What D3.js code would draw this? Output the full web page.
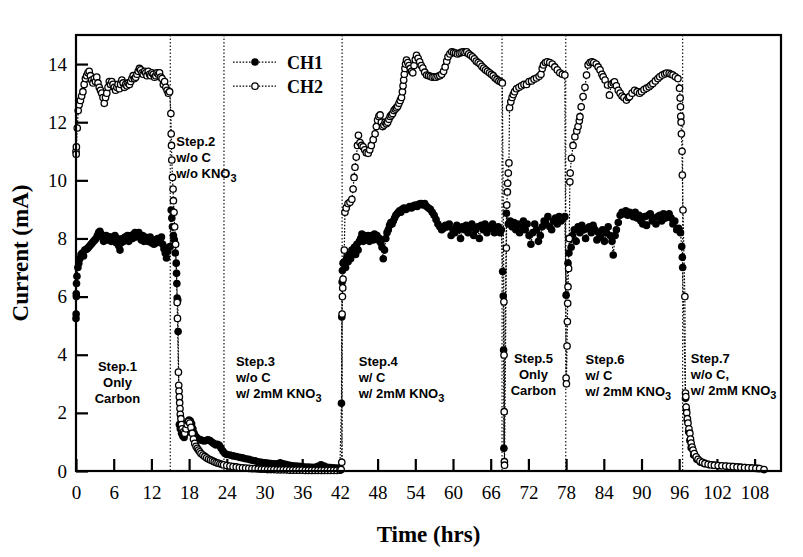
<!DOCTYPE html>
<html><head><meta charset="utf-8">
<script src="https://cdn.jsdelivr.net/npm/d3@7"></script>
<style>
html,body{margin:0;padding:0;background:#fff;}
svg{display:block;}
</style></head>
<body>
<svg id="chart" width="803" height="557"></svg>
<script>
// ---------- DATA (time in hrs, current in mA) ----------
const xTicks = [0,6,12,18,24,30,36,42,48,54,60,66,72,78,84,90,96,102,108];
const yTicks = [0,2,4,6,8,10,12,14];
const stepBoundaries = [15.0, 23.55, 42.35, 67.8, 77.95, 96.55];
const seriesNames = ["CH1","CH2"];

const ch1Step1 = [[0.0,5.25],[0.02,5.4],[0.04,6.1],[0.06,6.0],[0.08,6.45],[0.15,6.7],[0.3,7.0],[0.45,7.15],[0.6,7.3],[0.8,7.45],[1.0,7.5],[1.2,7.4],[1.4,7.6],[1.6,7.62],[1.8,7.65],[2.0,7.7],[2.2,7.75],[2.4,7.8],[2.6,7.85],[2.8,7.9],[3.0,7.95],[3.2,8.0],[3.4,8.1],[3.6,8.2],[3.8,8.25],[4.0,8.15],[4.2,8.05],[4.4,7.9],[4.6,8.0],[4.8,8.1],[5.0,7.95],[5.2,8.05],[5.4,8.06],[5.6,7.9],[5.8,8.0],[6.0,7.95],[6.2,8.1],[6.4,7.85],[6.6,8.0],[6.8,7.75],[7.0,7.6],[7.2,7.85],[7.4,8.0],[7.6,7.9],[7.8,8.05],[8.0,7.95],[8.2,8.1],[8.4,7.9],[8.6,8.0],[8.8,8.1],[9.0,8.0],[9.2,8.15],[9.4,8.2],[9.6,8.05],[9.8,8.15],[10.0,8.2],[10.2,8.05],[10.4,7.95],[10.6,8.1],[10.8,7.9],[11.0,8.05],[11.2,8.0],[11.4,7.9],[11.6,7.95],[11.8,8.05],[12.0,7.85],[12.2,7.9],[12.4,7.8],[12.6,7.95],[12.8,7.85],[13.0,8.0],[13.2,7.9],[13.4,7.95],[13.6,8.05],[13.8,7.8],[14.0,7.65],[14.2,7.5],[14.4,7.33],[14.6,7.55],[14.8,7.7],[15.0,7.72]];
const ch1Step2 = [[15.15,8.98],[15.25,8.7],[15.35,8.4],[15.5,8.1],[15.65,7.95],[15.8,7.5],[15.95,7.15],[16.0,6.8],[16.05,6.45],[16.1,5.95],[16.2,5.88],[16.25,4.8],[16.45,1.6],[16.6,1.45],[16.8,1.3],[17.0,1.2],[17.2,1.15],[17.4,1.3],[17.6,1.55],[17.8,1.7],[18.0,1.75],[18.2,1.72],[18.4,1.62],[18.6,1.45],[18.8,1.3],[19.0,1.2],[19.2,1.15],[19.5,1.1],[19.8,1.07],[20.1,1.05],[20.4,1.03],[20.7,1.05],[21.0,1.07],[21.3,1.05],[21.6,1.0],[21.9,0.95],[22.2,0.9],[22.5,0.92],[22.8,0.88],[23.1,0.78],[23.4,0.68]];
const ch1Step3 = [[23.7,0.6],[24.0,0.57],[24.5,0.55],[25.0,0.52],[25.5,0.5],[26.0,0.47],[26.5,0.45],[27.0,0.42],[27.5,0.4],[28.0,0.37],[28.5,0.35],[29.0,0.32],[29.5,0.3],[30.0,0.28],[30.5,0.27],[31.0,0.26],[31.5,0.25],[32.0,0.25],[32.5,0.28],[33.0,0.25],[33.5,0.22],[34.0,0.2],[34.5,0.18],[35.0,0.17],[35.5,0.16],[36.0,0.15],[36.5,0.14],[37.0,0.14],[37.5,0.13],[38.0,0.13],[38.5,0.16],[39.0,0.21],[39.5,0.17],[40.0,0.13],[40.5,0.12],[41.0,0.11],[41.5,0.1],[42.0,0.1],[42.25,2.33]];
const ch1Step4 = [[42.3,5.3],[42.35,6.5],[42.4,6.9],[42.5,7.15],[42.7,7.2],[42.9,7.0],[43.1,7.35],[43.3,7.2],[43.5,7.45],[43.7,7.3],[43.9,7.6],[44.1,7.5],[44.3,7.7],[44.5,7.45],[44.7,7.8],[44.9,7.6],[45.1,7.9],[45.3,8.0],[45.5,8.15],[45.7,7.9],[45.9,8.1],[46.1,7.95],[46.3,8.05],[46.5,8.1],[46.7,7.9],[46.9,8.05],[47.1,8.1],[47.3,7.95],[47.5,8.15],[47.7,8.05],[47.9,8.1],[48.1,7.95],[48.3,8.0],[48.5,7.85],[48.7,7.7],[48.9,7.3],[49.1,7.6],[49.3,8.0],[49.5,8.2],[49.7,8.3],[49.9,8.45],[50.1,8.55],[50.3,8.5],[50.5,8.6],[50.7,8.7],[50.9,8.8],[51.1,8.85],[51.3,8.9],[51.5,8.95],[51.7,8.9],[51.9,9.0],[52.2,9.05],[52.5,9.0],[52.8,9.05],[53.1,9.1],[53.4,9.05],[53.7,9.12],[54.0,9.15],[54.3,9.1],[54.6,9.18],[54.9,9.2],[55.2,9.15],[55.5,9.2],[55.8,9.1],[56.1,9.05],[56.4,9.0],[56.7,8.9],[57.0,8.8],[57.3,8.65],[57.6,8.5],[57.9,8.4],[58.2,8.3],[58.5,8.35],[58.8,8.45],[59.1,8.4],[59.4,8.5],[59.7,8.1],[60.0,8.3],[60.3,8.2],[60.6,8.45],[60.9,8.3],[61.2,8.0],[61.5,8.4],[61.8,8.3],[62.1,8.45],[62.4,8.2],[62.7,8.35],[63.0,8.5],[63.3,8.1],[63.6,8.3],[63.9,8.4],[64.2,8.0],[64.5,8.45],[64.8,8.3],[65.1,8.5],[65.4,8.2],[65.7,8.4],[66.0,8.35],[66.3,8.5],[66.6,8.2],[66.9,8.3],[67.2,8.4],[67.5,8.2],[67.7,8.3]];
const ch1Step5 = [[67.9,6.86],[68.0,6.02],[68.05,4.16],[68.1,0.78],[68.5,8.87],[68.8,8.5],[69.1,8.6],[69.4,8.4],[69.7,8.55],[70.0,8.3],[70.3,8.5],[70.6,8.2],[70.9,8.45],[71.2,8.6],[71.5,8.3],[71.8,8.5],[72.1,8.1],[72.4,7.8],[72.7,8.2],[73.0,8.5],[73.3,8.3],[73.6,7.9],[73.9,8.1],[74.2,8.4],[74.5,8.6],[74.8,8.5],[75.1,8.75],[75.4,8.4],[75.7,8.3],[76.0,8.6],[76.3,8.7],[76.6,8.5],[76.9,8.75],[77.2,8.6],[77.5,8.7],[77.8,8.75]];
const ch1Step6 = [[78.0,6.05],[78.3,7.15],[78.45,7.5],[78.6,8.0],[78.8,7.7],[79.0,8.1],[79.3,8.3],[79.6,7.9],[79.9,8.4],[80.2,8.2],[80.5,8.45],[80.8,8.3],[81.1,8.0],[81.4,8.35],[81.7,8.4],[82.0,8.2],[82.3,8.45],[82.6,8.3],[82.9,7.95],[83.2,8.2],[83.5,8.05],[83.8,8.3],[84.1,7.9],[84.4,8.2],[84.7,8.4],[85.0,8.1],[85.3,7.9],[85.5,7.43],[85.8,8.1],[86.0,8.3],[86.3,8.55],[86.6,8.8],[86.9,8.9],[87.2,8.85],[87.5,8.95],[87.8,8.8],[88.1,8.9],[88.4,8.85],[88.7,8.75],[89.0,8.9],[89.3,8.7],[89.6,8.8],[89.9,8.6],[90.2,8.5],[90.5,8.75],[90.8,8.45],[91.1,8.8],[91.4,8.85],[91.7,8.6],[92.0,8.7],[92.3,8.5],[92.6,8.75],[92.9,8.8],[93.2,8.6],[93.5,8.85],[93.8,8.7],[94.1,8.8],[94.4,8.85],[94.7,8.7],[95.0,8.5],[95.3,8.6],[95.6,8.3],[95.9,8.35],[96.2,8.2],[96.4,7.72],[96.5,7.35],[96.55,7.0]];
const ch1Step7 = [[97.0,2.5],[97.15,2.1],[97.3,1.75],[97.5,1.35],[97.7,1.05],[97.9,0.8],[98.3,0.55],[98.8,0.4],[99.4,0.3],[100.0,0.25],[100.7,0.22],[101.5,0.2],[102.5,0.18],[103.5,0.16],[104.5,0.15],[105.5,0.13],[106.5,0.12],[107.5,0.1],[108.5,0.09]];

const ch2Step1 = [[0.0,11.0],[0.03,10.9],[0.06,11.15],[0.2,11.8],[0.35,12.4],[0.5,12.6],[0.7,12.75],[0.9,12.9],[1.1,13.05],[1.3,13.3],[1.5,13.5],[1.7,13.6],[1.9,13.7],[2.1,13.75],[2.3,13.6],[2.5,13.45],[2.7,13.35],[2.9,13.5],[3.1,13.4],[3.3,13.55],[3.5,13.35],[3.7,13.2],[3.9,13.1],[4.1,13.0],[4.3,12.85],[4.5,12.65],[4.7,12.85],[4.9,13.0],[5.1,13.2],[5.3,13.4],[5.5,13.3],[5.7,13.4],[5.9,13.3],[6.1,13.2],[6.3,13.1],[6.5,13.2],[6.7,13.3],[6.9,13.15],[7.1,13.3],[7.3,13.45],[7.5,13.35],[7.7,13.2],[7.9,13.3],[8.1,13.25],[8.3,13.35],[8.5,13.3],[8.7,13.4],[8.9,13.5],[9.1,13.6],[9.3,13.5],[9.5,13.55],[9.7,13.65],[9.9,13.75],[10.1,13.85],[10.3,13.8],[10.5,13.7],[10.7,13.65],[10.9,13.75],[11.1,13.7],[11.3,13.6],[11.5,13.75],[11.7,13.65],[11.9,13.6],[12.1,13.7],[12.3,13.65],[12.5,13.55],[12.7,13.6],[12.9,13.7],[13.1,13.65],[13.3,13.7],[13.5,13.55],[13.7,13.5],[13.9,13.3],[14.1,13.4],[14.3,13.2],[14.5,13.1],[14.7,13.0],[14.9,13.05]];
const ch2Step2 = [[15.1,12.3],[15.15,11.6],[15.2,11.2],[15.25,10.7],[15.35,10.1],[15.45,9.7],[15.5,9.3],[15.6,8.9],[15.7,8.4],[15.85,7.8],[16.1,5.8],[16.15,5.25],[16.3,3.4],[16.35,2.95],[16.4,2.75],[16.45,2.55],[16.5,2.35],[16.55,2.15],[16.6,1.95],[16.7,1.8],[16.8,1.6],[16.9,1.45],[17.1,1.35],[17.3,1.3],[17.5,1.45],[17.7,1.6],[17.9,1.7],[18.1,1.65],[18.3,1.5],[18.5,1.3],[18.7,1.1],[18.9,0.95],[19.1,0.85],[19.3,0.78],[19.5,0.72],[19.7,0.66],[19.9,0.6],[20.2,0.55],[20.5,0.5],[20.8,0.45],[21.1,0.41],[21.4,0.38],[21.7,0.35],[22.0,0.32],[22.3,0.29],[22.6,0.27],[22.9,0.25],[23.2,0.23],[23.5,0.21]];
const ch2Step3 = [[24.0,0.19],[24.5,0.17],[25.0,0.15],[25.5,0.14],[26.0,0.12],[26.5,0.11],[27.0,0.1],[27.5,0.09],[28.0,0.08],[28.5,0.08],[29.0,0.07],[29.5,0.06],[30.0,0.06],[30.5,0.05],[31.0,0.05],[31.5,0.05],[32.0,0.04],[32.5,0.04],[33.0,0.04],[33.5,0.04],[34.0,0.03],[34.5,0.03],[35.0,0.03],[35.5,0.03],[36.0,0.03],[36.5,0.02],[37.0,0.02],[37.5,0.02],[38.0,0.02],[38.5,0.02],[39.0,0.02],[39.5,0.02],[40.0,0.02],[40.5,0.02],[41.0,0.02],[41.5,0.02],[42.0,0.03],[42.2,0.05]];
const ch2Step4 = [[42.3,0.3],[42.35,5.4],[42.4,6.0],[42.45,6.3],[42.5,6.6],[42.7,7.6],[42.8,8.9],[43.0,9.05],[43.3,9.2],[43.6,9.25],[43.9,9.35],[44.1,9.7],[44.25,10.1],[44.4,10.45],[44.6,10.8],[44.8,11.2],[44.95,11.55],[45.2,11.3],[45.45,11.2],[45.7,11.15],[45.95,11.05],[46.2,10.95],[46.5,10.93],[46.75,11.05],[47.0,11.2],[47.3,11.4],[47.6,11.6],[47.8,11.85],[48.0,12.07],[48.2,12.2],[48.4,12.25],[48.6,12.0],[48.8,11.85],[49.0,11.9],[49.2,12.0],[49.4,11.95],[49.6,12.0],[49.8,12.1],[50.0,12.2],[50.2,12.25],[50.4,12.3],[50.6,12.4],[50.8,12.45],[51.0,12.5],[51.2,12.55],[51.4,12.65],[51.6,12.75],[51.8,12.85],[51.95,13.05],[52.05,13.25],[52.15,13.45],[52.25,13.65],[52.35,13.85],[52.45,14.0],[52.6,14.14],[52.8,14.05],[53.0,13.95],[53.2,13.85],[53.4,13.75],[53.6,13.7],[53.8,13.95],[54.0,14.15],[54.2,14.3],[54.45,14.2],[54.7,14.08],[54.95,13.95],[55.2,13.86],[55.5,13.72],[55.8,13.62],[56.1,13.6],[56.4,13.58],[56.7,13.55],[57.0,13.56],[57.3,13.55],[57.6,13.58],[57.9,13.6],[58.2,13.65],[58.5,13.75],[58.75,13.9],[59.0,14.1],[59.2,14.25],[59.5,14.35],[59.8,14.42],[60.1,14.4],[60.4,14.38],[60.7,14.35],[61.0,14.37],[61.3,14.4],[61.6,14.42],[61.9,14.4],[62.2,14.42],[62.5,14.35],[62.8,14.3],[63.1,14.25],[63.4,14.18],[63.7,14.1],[64.0,14.05],[64.3,14.0],[64.6,13.92],[64.9,13.86],[65.2,13.8],[65.5,13.75],[65.8,13.7],[66.1,13.65],[66.4,13.6],[66.7,13.52],[67.0,13.47],[67.3,13.42],[67.6,13.39],[67.85,13.35]];
const ch2Step5 = [[68.1,5.82],[68.12,3.99],[68.15,2.04],[68.18,0.32],[68.2,0.2],[68.5,7.67],[68.55,9.15],[68.65,9.6],[68.7,9.9],[68.8,10.25],[68.9,10.6],[69.0,12.5],[69.2,12.7],[69.4,12.85],[69.6,12.95],[69.8,13.05],[70.1,13.15],[70.5,13.2],[70.9,13.25],[71.3,13.3],[71.7,13.3],[72.1,13.4],[72.5,13.42],[72.9,13.48],[73.3,13.52],[73.7,13.58],[74.0,13.65],[74.2,13.85],[74.4,13.97],[74.7,14.05],[75.0,14.08],[75.4,14.05],[75.8,14.0],[76.2,13.9],[76.6,13.8],[77.0,13.7],[77.4,13.65],[77.8,13.62]];
const ch2Step6 = [[78.0,3.2],[78.05,3.0],[78.15,4.3],[78.2,5.14],[78.25,5.77],[78.3,6.34],[78.4,6.97],[78.5,8.0],[78.6,9.95],[78.65,10.25],[78.85,10.76],[79.1,11.2],[79.4,11.5],[79.7,11.7],[79.9,11.85],[80.1,12.05],[80.2,12.19],[80.4,12.53],[80.7,12.88],[81.0,13.2],[81.25,13.62],[81.5,13.97],[81.8,14.05],[82.1,14.08],[82.4,14.05],[82.8,14.0],[83.1,13.9],[83.4,13.8],[83.7,13.65],[83.9,13.56],[84.2,13.45],[84.6,13.28],[84.9,12.93],[85.2,13.3],[85.5,13.35],[85.7,13.39],[86.0,13.25],[86.3,13.1],[86.6,13.0],[86.9,12.9],[87.2,12.85],[87.6,12.76],[87.9,12.85],[88.1,12.88],[88.5,13.0],[88.9,13.1],[89.3,13.05],[89.7,13.0],[90.0,13.05],[90.4,13.12],[90.8,13.17],[91.2,13.22],[91.5,13.28],[91.8,13.33],[92.2,13.42],[92.6,13.5],[92.9,13.56],[93.3,13.62],[93.7,13.66],[94.0,13.69],[94.4,13.68],[94.7,13.65],[95.0,13.62],[95.4,13.56],[95.8,13.5],[96.05,13.17]];
const ch2Step7 = [[96.15,12.83],[96.2,12.53],[96.25,12.2],[96.3,12.0],[96.35,11.6],[96.45,11.0],[96.5,10.18],[96.6,8.98],[96.9,6.0],[97.0,2.68],[97.05,2.56],[97.1,2.2],[97.2,2.0],[97.3,1.8],[97.4,1.65],[97.55,1.45],[97.7,1.3],[97.8,1.1],[97.9,0.96],[98.05,0.82],[98.2,0.72],[98.4,0.6],[98.7,0.49],[99.0,0.4],[99.3,0.34],[99.7,0.3],[100.1,0.26],[100.6,0.23],[101.1,0.21],[101.6,0.2],[102.2,0.19],[102.8,0.18],[103.4,0.17],[104.0,0.16],[104.6,0.15],[105.2,0.14],[105.8,0.13],[106.4,0.12],[107.0,0.11],[107.6,0.1],[108.2,0.09],[108.8,0.08],[109.5,0.05]];

// Step annotations: anchor time, anchor current, alignment, lines ("|" marks a subscript)
const stepLabels = [
  {t:6.6,  v:3.45, anchor:"middle", lines:["Step.1","Only","Carbon"]},
  {t:15.95,v:11.17,anchor:"start",  lines:["Step.2","w/o C","w/o KNO|3"]},
  {t:25.45,v:3.62, anchor:"start",  lines:["Step.3","w/o C","w/ 2mM KNO|3"]},
  {t:45.0, v:3.62, anchor:"start",  lines:["Step.4","w/ C","w/ 2mM KNO|3"]},
  {t:72.8, v:3.72, anchor:"middle", lines:["Step.5","Only","Carbon"]},
  {t:81.1, v:3.68, anchor:"start",  lines:["Step.6","w/ C","w/ 2mM KNO|3"]},
  {t:97.85,v:3.72, anchor:"start",  lines:["Step.7","w/o C,","w/ 2mM KNO|3"]}
];

// ---------- CHART ----------
const ch1 = [].concat(ch1Step1, ch1Step2, ch1Step3, ch1Step4, ch1Step5, ch1Step6, ch1Step7);
const ch2 = [].concat(ch2Step1, ch2Step2, ch2Step3, ch2Step4, ch2Step5, ch2Step6, ch2Step7);

const svg = d3.select("#chart");
const L = 76, R = 781, T = 35, B = 471;
const x = d3.scaleLinear().domain([0, 112.2]).range([L, R]);
const y = d3.scaleLinear().domain([0, 15]).range([B, T]);
const serif = "'Liberation Serif','Times New Roman',Times,serif";
const sans = "'Liberation Sans',Arial,Helvetica,sans-serif";
const rFilled = 3.8, rOpen = 3.2;

// step boundaries
svg.append("g").selectAll("line").data(stepBoundaries).join("line")
  .attr("x1", d => x(d)).attr("x2", d => x(d))
  .attr("y1", T).attr("y2", B)
  .attr("stroke", "#000").attr("stroke-width", 1.1)
  .attr("stroke-dasharray", "1.5,2");

// axes
const xAxis = svg.append("g").attr("transform", `translate(0,${B})`)
  .call(d3.axisBottom(x).tickValues(xTicks).tickSizeInner(-12).tickSizeOuter(0).tickPadding(15));
const yAxis = svg.append("g").attr("transform", `translate(${L},0)`)
  .call(d3.axisLeft(y).tickValues(yTicks).tickSizeInner(-12).tickSizeOuter(0).tickPadding(9));
[xAxis, yAxis].forEach(g => {
  g.select(".domain").remove();
  g.selectAll(".tick line").attr("stroke", "#000").attr("stroke-width", 2.2);
  g.selectAll(".tick text").attr("fill", "#000")
    .style("font-family", serif).style("font-size", "19px");
});

// lines (dotted)
const line = d3.line().x(d => x(d[0])).y(d => y(d[1]));
[ch1, ch2].forEach(s => {
  svg.append("path").datum(s).attr("d", line)
    .attr("fill", "none").attr("stroke", "#000").attr("stroke-width", 1.2)
    .attr("stroke-dasharray", "1.6,1.6");
});

// markers
svg.append("g").selectAll("circle").data(ch1).join("circle")
  .attr("cx", d => x(d[0])).attr("cy", d => y(d[1])).attr("r", rFilled)
  .attr("fill", "#000");
svg.append("g").selectAll("circle").data(ch2).join("circle")
  .attr("cx", d => x(d[0])).attr("cy", d => y(d[1])).attr("r", rOpen)
  .attr("fill", "#fff").attr("stroke", "#000").attr("stroke-width", 1.3);

// frame
svg.append("rect").attr("x", L).attr("y", T).attr("width", R - L).attr("height", B - T)
  .attr("fill", "none").attr("stroke", "#000").attr("stroke-width", 2.2);

// legend
const legend = svg.append("g");
seriesNames.forEach((name, i) => {
  const ly = y(14.07 - i * 0.83);
  legend.append("line").attr("x1", 233).attr("x2", 276).attr("y1", ly).attr("y2", ly)
    .attr("stroke", "#000").attr("stroke-width", 1.2).attr("stroke-dasharray", "1.6,1.6");
  if (i === 0) legend.append("circle").attr("cx", 255).attr("cy", ly).attr("r", rFilled).attr("fill", "#000");
  else legend.append("circle").attr("cx", 255).attr("cy", ly).attr("r", rOpen)
    .attr("fill", "#fff").attr("stroke", "#000").attr("stroke-width", 1.3);
  legend.append("text").attr("x", 287).attr("y", ly + 6.5).text(name)
    .style("font-family", serif).style("font-weight", "bold").style("font-size", "18px");
});

// step annotations
stepLabels.forEach(s => {
  const t = svg.append("text")
    .attr("text-anchor", s.anchor)
    .style("font-family", sans).style("font-weight", "bold").style("font-size", "13px");
  s.lines.forEach((ln, i) => {
    const parts = ln.split("|");
    t.append("tspan").attr("x", x(s.t)).attr("y", y(s.v) + i * 16).text(parts[0]);
    if (parts[1]) {
      t.append("tspan").attr("dy", 4).style("font-size", "11px").text(parts[1]);
    }
  });
});

// axis titles
svg.append("text").attr("x", (L + R) / 2).attr("y", 542).attr("text-anchor", "middle")
  .style("font-family", serif).style("font-weight", "bold").style("font-size", "23px")
  .text("Time (hrs)");
svg.append("text").attr("transform", `translate(28,${(T + B) / 2}) rotate(-90)`)
  .attr("text-anchor", "middle")
  .style("font-family", serif).style("font-weight", "bold").style("font-size", "23px")
  .text("Current (mA)");
</script>
</body></html>
